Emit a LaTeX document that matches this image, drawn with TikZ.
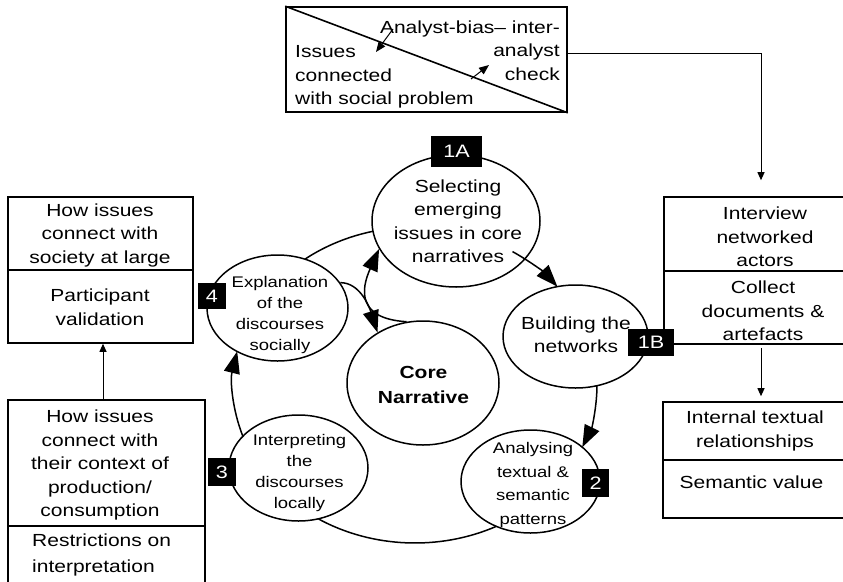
\documentclass[tikz,border=0pt]{standalone}
\usepackage{fontspec}
\setmainfont[FakeStretch=1.2]{Liberation Sans}
\usetikzlibrary{arrows.meta,shapes.geometric}
\begin{document}
\begin{tikzpicture}[x=1pt,y=-1pt,
  box/.style={draw,line width=1.6pt,rectangle,inner sep=0pt},
  oval/.style={draw,line width=1.5pt,ellipse,inner sep=0pt,fill=white},
  tag/.style={fill=black,text=white,inner sep=0pt,font=\fontsize{18}{20}\selectfont},
  big/.style={font=\fontsize{17.5}{23.5}\selectfont,align=center,inner sep=0pt},
  small/.style={font=\fontsize{15.4}{21}\selectfont,align=center,inner sep=0pt},
  cyc/.style={line width=1.5pt},
  cyca/.style={line width=1.5pt,-{Triangle[length=22pt,width=16pt]}},
  thinarrow/.style={line width=1pt,-{Triangle[length=8pt,width=7pt]}},
  tinyarrow/.style={line width=1pt,-{Triangle[length=10pt,width=8pt]}},
]
\useasboundingbox (0,0) rectangle (843,581);
\fill[white] (0,0) rectangle (843,581);
\clip (0,0) rectangle (843,581);

% top box
\node[box,minimum width=281pt,minimum height=105pt] (topbox) at (426.5,59.5) {};
\draw[line width=1.6pt] (topbox.north west) -- (topbox.south east);
\node[big,anchor=east,align=right] (bias) at (560,50.5) {Analyst-bias\textendash{} inter-\\analyst\\check};
\node[big,anchor=west,align=left] (issues) at (295,77) {Issues\\connected\\with social problem};
\coordinate (b1) at (393,29); \coordinate (b2) at (376,52);
\draw[tinyarrow] (b1) -- (b2);
\coordinate (c1) at (471,79); \coordinate (c2) at (489,65);
\draw[tinyarrow] (c1) -- (c2);

% left boxes
\node[box,minimum width=185pt,minimum height=73pt] (lbox1) at (100.5,233.5) {};
\node[box,minimum width=185pt,minimum height=73pt] (lbox2) at (100.5,306.5) {};
\node[box,minimum width=197pt,minimum height=126pt] (lbox3) at (106.5,463) {};
\node[box,minimum width=197pt,minimum height=74pt] (lbox4) at (106.5,563) {};
\node[big] (lt1) at (100,235) {How issues\\connect with\\society at large};
\node[big] (lt2) at (100,307) {Participant\\validation};
\node[big] (lt3) at (100,465) {How issues\\connect with\\their context of\\production/\\consumption};
\node[big,align=left,anchor=west,font=\fontsize{17.5}{26.5}\selectfont] (lt4) at (32,555) {Restrictions on\\interpretation};

% right boxes
\node[box,minimum width=194pt,minimum height=74pt] (rbox1) at (761,234) {};
\node[box,minimum width=194pt,minimum height=73pt] (rbox2) at (761,307.5) {};
\node[box,minimum width=196pt,minimum height=58pt] (rbox3) at (761,431) {};
\node[box,minimum width=196pt,minimum height=58pt] (rbox4) at (761,489) {};
\node[big] (rt1) at (765,237) {Interview\\networked\\actors};
\node[big] (rt2) at (763,311) {Collect\\documents \&\\artefacts};
\node[big] (rt3) at (755,431) {Internal textual\\relationships};
\node[big] (rt4) at (751.5,482) {Semantic value};

% ellipses
\node[oval,minimum width=168pt,minimum height=132pt] (sel) at (456,221) {};
\node[oval,minimum width=145pt,minimum height=103pt] (bld) at (575.5,336.5) {};
\node[oval,minimum width=139pt,minimum height=103pt] (ana) at (530.5,481.5) {};
\node[oval,minimum width=152pt,minimum height=124pt] (core) at (423,383) {};
\node[oval,minimum width=141pt,minimum height=106pt] (expl) at (277.5,308) {};
\node[oval,minimum width=139pt,minimum height=106pt] (intp) at (298.5,468) {};

\node[big] (selT) at (458,221) {Selecting\\emerging\\issues in core\\narratives};
\node[big] (bldT) at (576,334.5) {Building the\\networks};
\node[small,font=\fontsize{15.4}{23.5}\selectfont] (anaT) at (533,485) {Analysing\\textual \&\\semantic\\patterns};
\node[big,font=\bfseries\fontsize{17.5}{25}\selectfont] (coreT) at (423.5,384.5) {Core\\Narrative};
\node[small] (explT) at (280,315) {Explanation\\of the\\discourses\\socially};
\node[small] (intpT) at (299.5,473.5) {Interpreting\\the\\discourses\\locally};

% cycle arcs
\coordinate (C) at (415,385);
\draw[cyc] ([shift={(127.2:182pt and 158pt)}]C) arc[start angle=127.2, end angle=103.4, x radius=182pt, y radius=158pt];
\draw[cyca] ([shift={(57.6:182pt and 158pt)}]C) arc[start angle=57.6, end angle=38.5, x radius=182pt, y radius=158pt];
\draw[cyca] ([shift={(-0.3:182pt and 158pt)}]C) arc[start angle=-0.3, end angle=-23.2, x radius=182pt, y radius=158pt];
\draw[cyc] ([shift={(-63.5:182pt and 158pt)}]C) arc[start angle=-63.5, end angle=-122, x radius=182pt, y radius=158pt];
\draw[cyca] ([shift={(-161:182pt and 158pt)}]C) arc[start angle=-161, end angle=-192.3, x radius=182pt, y radius=158pt];

% inner curls
\draw[cyca] (core.105) .. controls +(-50,-3) and +(-18,40) .. (sel.200);
\draw[cyca] (expl.22) .. controls +(20,0) and +(-8,-25) .. (core.132);

% straight connectors
\draw[thinarrow] ([yshift=6.5pt]topbox.east) -| ([yshift=16pt]rbox1.north);
\draw[thinarrow,shorten <=3pt,shorten >=5pt] (rbox2.south) -- (rbox3.north);
\draw[thinarrow] ([xshift=-3.5pt]lbox3.north) -- ([xshift=2.5pt]lbox2.south);

% tags
\node[tag,minimum width=51pt,minimum height=31pt] (t1A) at (456.5,151.5) {1A};
\node[tag,minimum width=46pt,minimum height=27pt] (t1B) at (651,342.5) {1B};
\node[tag,minimum width=27pt,minimum height=28pt] (t2) at (595.5,483) {2};
\node[tag,minimum width=28pt,minimum height=28pt] (t3) at (222,472) {3};
\node[tag,minimum width=28pt,minimum height=26pt] (t4) at (212,296) {4};
\end{tikzpicture}
\end{document}
